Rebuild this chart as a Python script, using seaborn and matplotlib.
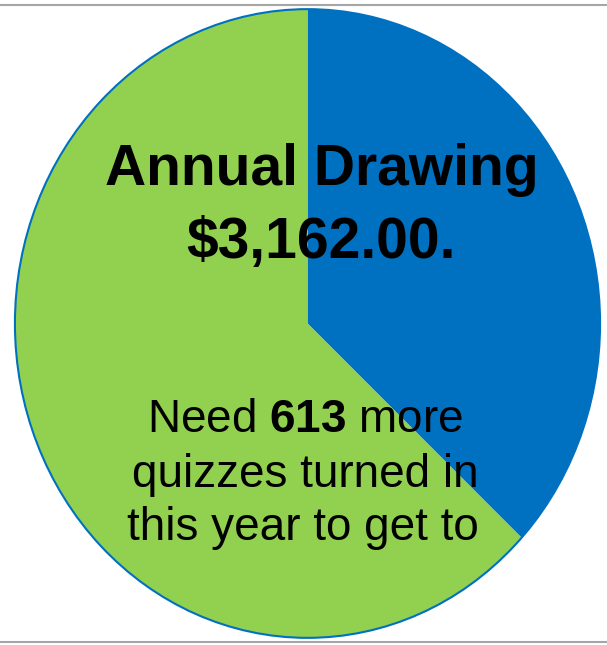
import matplotlib
matplotlib.use("Agg")
import matplotlib.pyplot as plt
import seaborn as sns
from matplotlib.lines import Line2D
from matplotlib.patches import Circle

# data
categories = ["Turned in", "Still needed"]
quizzes = [359, 613]
slice_colors = ["#0070C0", "#92D050"]
title_lines = ["Annual Drawing", "$3,162.00."]
note_lines = ["Need $\\mathbf{613}$ more", "quizzes turned in", "this year to get to"]

sns.set_style("white")
plt.rcParams["font.family"] = ["Liberation Sans", "DejaVu Sans"]
plt.rcParams["mathtext.fontset"] = "custom"
plt.rcParams["mathtext.rm"] = "Liberation Sans"
plt.rcParams["mathtext.bf"] = "Liberation Sans:bold"

W, H = 607, 645
fig = plt.figure(figsize=(W / 100, H / 100), dpi=100)


def fx(px):
    return px / W


def fy(py):
    return 1 - py / H


# pie occupies an ellipse from x 12..603, y 6..641
ax = fig.add_axes([fx(12), fy(641), (603 - 12) / W, (641 - 6) / H])
ax.pie(quizzes, colors=slice_colors, startangle=90, counterclock=False,
       radius=1, wedgeprops=dict(linewidth=0))
ax.add_patch(Circle((0, 0), 1, fill=False, edgecolor="#0070C0", lw=1.5))
ax.set_aspect("auto")
ax.set_xlim(-1.01, 1.01)
ax.set_ylim(-1.01, 1.01)
ax.axis("off")

# thin frame lines top and bottom
for py in (5, 642):
    fig.add_artist(Line2D([0, 1], [fy(py), fy(py)], transform=fig.transFigure,
                          color="#a6a6a6", lw=1.5))

for txt, (cx, base) in zip(title_lines, [(322, 185), (321, 258)]):
    fig.text(fx(cx), fy(base), txt, ha="center", va="baseline",
             fontsize=41, fontweight="bold", color="black")

for txt, (cx, base) in zip(note_lines, [(305, 432), (305, 487), (303, 540)]):
    fig.text(fx(cx), fy(base), txt, ha="center", va="baseline",
             fontsize=33, color="black")

fig.savefig("out.png", dpi=100)
